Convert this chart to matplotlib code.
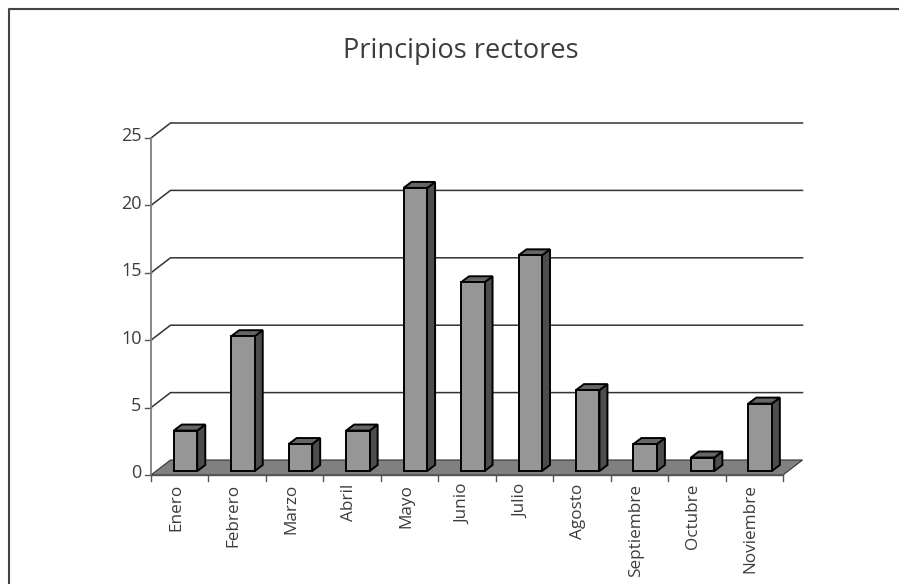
import matplotlib
matplotlib.use("Agg")
import matplotlib.pyplot as plt
from matplotlib.patches import Polygon
from matplotlib.lines import Line2D

meses = ["Enero", "Febrero", "Marzo", "Abril", "Mayo", "Junio", "Julio",
         "Agosto", "Septiembre", "Octubre", "Noviembre"]
valores = [3, 10, 2, 3, 21, 14, 16, 6, 2, 1, 5]
y_ticks = [0, 5, 10, 15, 20, 25]
titulo = "Principios rectores"

W, H = 899, 584
fig = plt.figure(figsize=(W / 100, H / 100), dpi=100)
plt.rcParams['font.family'] = ['Open Sans', 'DejaVu Sans']

# marco exterior: solo arriba y a la izquierda
fig.add_artist(Line2D([9 / W, 9 / W, 1], [0, 1 - 9 / H, 1 - 9 / H], color="#444444",
                      lw=1.5, transform=fig.transFigure))

# ejes: 0..11 categorias sobre 151-783 px, 0..25 sobre 475-138 px
ax = fig.add_axes([151 / W, 1 - 475 / H, 632 / W, 337 / H])
ax.set_xlim(0, len(meses))
ax.set_ylim(0, 25)
ax.axis("off")

px = len(meses) / 632
py = 25 / 337
wall_x, wall_y = 19.5 * px, 15 * py   # profundidad de la pared
n = len(meses)

# suelo
ax.add_patch(Polygon([(0, 0), (n, 0), (n + wall_x, wall_y), (wall_x, wall_y)],
                     facecolor="#808080", edgecolor="#333333", lw=0.8, clip_on=False, zorder=1))

# rejilla
for t in y_ticks:
    if t > 0:
        ax.plot([0, wall_x, n + wall_x], [t, t + wall_y, t + wall_y], color="#333333",
                lw=1.1, clip_on=False, zorder=1)
    ax.plot([-6 * px, 0], [t, t], color="#555555", lw=1, clip_on=False, zorder=2)
    ax.text(-9.5 * px, t + 1.5 * py, str(t), ha="right", va="center", fontsize=13, color="#3c3c3c")

# eje y y eje x
ax.plot([0, 0], [0, 25], color="#808080", lw=1.3, clip_on=False, zorder=2)
ax.plot([0, n], [0, 0], color="#555555", lw=1, clip_on=False, zorder=2)
for i in range(n + 1):
    ax.plot([i, i], [0, -6 * py], color="#555555", lw=1, clip_on=False, zorder=2)

# barras
bar_w = 23.5 * px
off_x, off_y = 5.8 * px, 4 * py
dx, dy = 8 * px, 6 * py
for i, v in enumerate(valores):
    x0 = i + 0.5 - bar_w / 2 + off_x
    x1 = x0 + bar_w
    y0 = off_y
    y1 = off_y + v
    ax.add_patch(Polygon([(x1, y0), (x1 + dx, y0 + dy), (x1 + dx, y1 + dy), (x1, y1)],
                         facecolor="#4d4d4d", edgecolor="black", lw=1.4, clip_on=False, zorder=3))
    ax.add_patch(Polygon([(x0, y1), (x1, y1), (x1 + dx, y1 + dy), (x0 + dx, y1 + dy)],
                         facecolor="#666666", edgecolor="black", lw=1.4, clip_on=False, zorder=3))
    ax.bar(i + 0.5 + off_x, v, width=bar_w, bottom=off_y, color="#969696",
           edgecolor="black", lw=1.4, clip_on=False, zorder=4)

# etiquetas
for i, m in enumerate(meses):
    ax.text(i + 0.5 - 3.5 * px, -9 * py, m, rotation=90, ha="center", va="top",
            fontsize=12.3, color="#3c3c3c")

fig.text(460.5 / W, 1 - 51 / H, titulo, ha="center", va="center", fontsize=19.5,
         color="#3c3c3c")

fig.savefig("out.png", dpi=100)
